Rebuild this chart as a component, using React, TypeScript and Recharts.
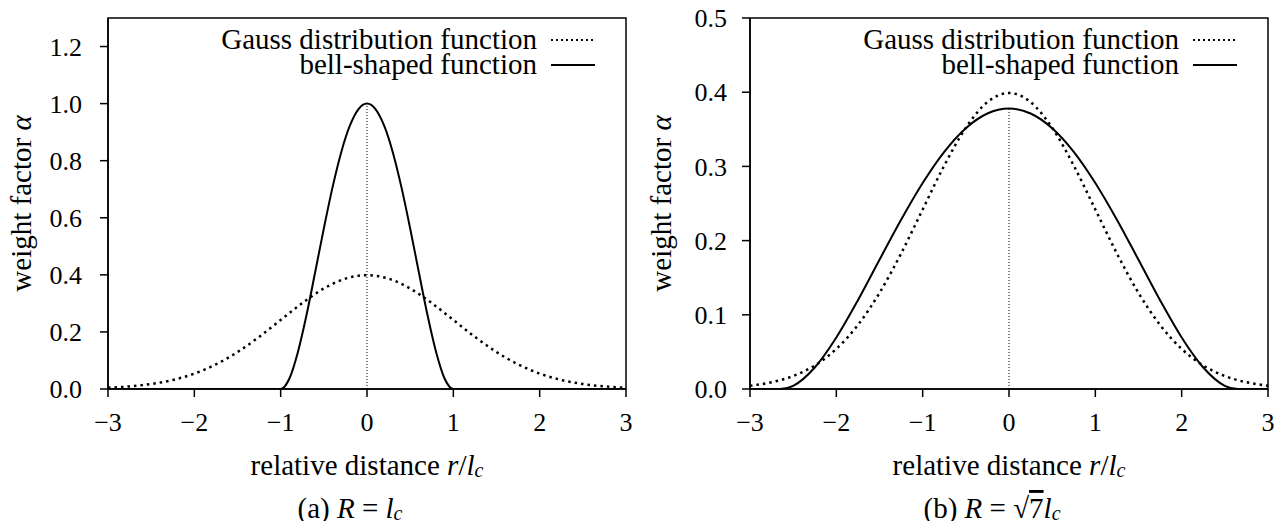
import { LineChart, Line, XAxis, YAxis, Legend, ReferenceLine, ReferenceArea } from "recharts"

const xTicks = [-3, -2, -1, 0, 1, 2, 3]
const yTicksA = [0, 0.2, 0.4, 0.6, 0.8, 1.0, 1.2]
const yTicksB = [0, 0.1, 0.2, 0.3, 0.4, 0.5]

// Gauss distribution (same in both panels)
const gaussX = [-3, -2.75, -2.5, -2.25, -2, -1.75, -1.5, -1.25, -1, -0.75, -0.5, -0.25, 0, 0.25, 0.5, 0.75, 1, 1.25, 1.5, 1.75, 2, 2.25, 2.5, 2.75, 3]
const gaussAlpha = [0.0044, 0.0091, 0.0175, 0.0317, 0.054, 0.0863, 0.1295, 0.1826, 0.242, 0.3011, 0.3521, 0.3867, 0.3989, 0.3867, 0.3521, 0.3011, 0.242, 0.1826, 0.1295, 0.0863, 0.054, 0.0317, 0.0175, 0.0091, 0.0044]

// bell-shaped, panel (a) R = l_c
const bellAX = [-3, -1, -0.9, -0.8, -0.7, -0.6, -0.5, -0.4, -0.3, -0.2, -0.1, 0, 0.1, 0.2, 0.3, 0.4, 0.5, 0.6, 0.7, 0.8, 0.9, 1, 3]
const bellAAlpha = [0, 0, 0.036, 0.13, 0.26, 0.41, 0.5625, 0.7056, 0.8281, 0.9216, 0.9801, 1, 0.9801, 0.9216, 0.8281, 0.7056, 0.5625, 0.41, 0.26, 0.13, 0.036, 0, 0]

// bell-shaped, panel (b) R = sqrt(7) l_c
const bellBX = [-3, -2.65, -2.5, -2.25, -2, -1.75, -1.5, -1.25, -1, -0.75, -0.5, -0.25, 0, 0.25, 0.5, 0.75, 1, 1.25, 1.5, 1.75, 2, 2.25, 2.5, 2.65, 3]
const bellBAlpha = [0, 0, 0.0043, 0.029, 0.0694, 0.1196, 0.1741, 0.2281, 0.2777, 0.3197, 0.3515, 0.3713, 0.378, 0.3713, 0.3515, 0.3197, 0.2777, 0.2281, 0.1741, 0.1196, 0.0694, 0.029, 0.0043, 0, 0]

const FONT = "'Liberation Serif', 'Times New Roman', serif"
const TEXT_SIZE = 29

const toRows = (xs: number[], ys: number[]) => xs.map((x, i) => ({ x, alpha: ys[i] }))

const gaussData = toRows(gaussX, gaussAlpha)
const bellAData = toRows(bellAX, bellAAlpha)
const bellBData = toRows(bellBX, bellBAlpha)

const fmtX = (v: number) => (v < 0 ? `\u2212${Math.abs(v)}` : `${v}`)

function LegendBox({ payload }: any) {
  return (
    <div style={{ fontFamily: FONT, fontSize: TEXT_SIZE, color: "#000", lineHeight: "25px" }}>
      {(payload || []).map((entry: any) => (
        <div key={entry.value} style={{ display: "flex", alignItems: "center", justifyContent: "flex-end", height: 25 }}>
          <span style={{ whiteSpace: "nowrap" }}>{entry.value}</span>
          <svg width={44} height={10} style={{ marginLeft: 14 }}>
            <line
              x1={0}
              x2={44}
              y1={5}
              y2={5}
              stroke="#000"
              strokeWidth={2}
              strokeDasharray={entry.payload?.strokeDasharray ? "2 3" : undefined}
            />
          </svg>
        </div>
      ))}
    </div>
  )
}

interface PanelProps {
  left: number
  width: number
  yAxisWidth: number
  marginRight: number
  tickMargin: number
  yMax: number
  yTicks: number[]
  bell: { x: number; alpha: number }[]
  peak: number
  caption: React.ReactNode
}

function Panel({ left, width, yAxisWidth, marginRight, tickMargin, yMax, yTicks, bell, peak, caption }: PanelProps) {
  return (
    <div style={{ position: "absolute", left, top: 0 }}>
      <LineChart width={width} height={521} margin={{ top: 18, right: marginRight, bottom: 52, left: 0 }}>
        <XAxis
          dataKey="x"
          type="number"
          domain={[-3, 3]}
          ticks={xTicks}
          tickFormatter={fmtX}
          allowDataOverflow
          height={80}
          tickSize={8}
          tickMargin={16}
          axisLine={{ stroke: "#000", strokeWidth: 1.5 }}
          tickLine={{ stroke: "#000", strokeWidth: 1.5 }}
          tick={{ fill: "#000", fontSize: 26, fontFamily: FONT }}
          label={{
            content: ({ viewBox }: any) => {
              const cx = viewBox.x + viewBox.width / 2
              return (
                <g fontFamily={FONT} fill="#000">
                  <text x={cx} y={viewBox.y + 76} textAnchor="middle" dominantBaseline="central" fontSize={TEXT_SIZE}>
                    relative distance <tspan fontStyle="italic">r</tspan>/<tspan fontStyle="italic">l</tspan>
                    <tspan fontStyle="italic" fontSize={20} dy={5}>c</tspan>
                  </text>
                  <text x={cx - 17} y={viewBox.y + 119} textAnchor="middle" dominantBaseline="central" fontSize={TEXT_SIZE}>
                    {caption}
                  </text>
                </g>
              )
            },
          }}
        />
        <YAxis
          type="number"
          domain={[0, yMax]}
          ticks={yTicks}
          tickFormatter={(v: number) => v.toFixed(1)}
          allowDataOverflow
          width={yAxisWidth}
          tickSize={8}
          tickMargin={tickMargin}
          axisLine={{ stroke: "#000", strokeWidth: 1.5 }}
          tickLine={{ stroke: "#000", strokeWidth: 1.5 }}
          tick={{ fill: "#000", fontSize: 26, fontFamily: FONT }}
          label={{
            content: ({ viewBox }: any) => {
              const x = viewBox.x + 21
              const y = viewBox.y + viewBox.height / 2
              return (
                <text
                  x={x}
                  y={y}
                  transform={`rotate(-90 ${x} ${y})`}
                  textAnchor="middle"
                  dominantBaseline="central"
                  fontFamily={FONT}
                  fontSize={TEXT_SIZE}
                  fill="#000"
                >
                  weight factor <tspan fontStyle="italic">α</tspan>
                </text>
              )
            },
          }}
        />
        <Legend
          layout="horizontal"
          verticalAlign="middle"
          align="center"
          content={<LegendBox />}
          wrapperStyle={{ top: 27, right: marginRight + 31, left: "auto", width: "auto" }}
        />
        <ReferenceLine
          segment={[
            { x: 0, y: 0 },
            { x: 0, y: peak },
          ]}
          stroke="#000"
          strokeWidth={1}
          strokeDasharray="1 2"
        />
        <Line
          data={gaussData}
          dataKey="alpha"
          name="Gauss distribution function"
          type="monotone"
          stroke="#000"
          strokeWidth={2.5}
          strokeDasharray="2.5 4"
          dot={false}
          activeDot={false}
          isAnimationActive={false}
        />
        <Line
          data={bell}
          dataKey="alpha"
          name="bell-shaped function"
          type="monotone"
          stroke="#000"
          strokeWidth={2}
          dot={false}
          activeDot={false}
          isAnimationActive={false}
        />
        <ReferenceArea x1={-3} x2={3} y1={0} y2={yMax} fill="none" stroke="#000" strokeWidth={1.5} />
      </LineChart>
    </div>
  )
}

export default function App() {
  return (
    <div style={{ position: "fixed", left: 0, top: 0, width: 1279, height: 521, background: "#fff" }}>
      <Panel
        left={0}
        width={640}
        yAxisWidth={108}
        marginRight={14}
        tickMargin={18}
        yMax={1.3}
        yTicks={yTicksA}
        bell={bellAData}
        peak={Math.max(...bellAAlpha)}
        caption={
          <>
            (a) <tspan fontStyle="italic">R</tspan> = <tspan fontStyle="italic">l</tspan>
            <tspan fontStyle="italic" fontSize={20} dy={5}>c</tspan>
          </>
        }
      />
      <Panel
        left={640}
        width={639}
        yAxisWidth={110}
        marginRight={11}
        tickMargin={15}
        yMax={0.5}
        yTicks={yTicksB}
        bell={bellBData}
        peak={Math.max(...bellBAlpha)}
        caption={
          <>
            (b) <tspan fontStyle="italic">R</tspan> = √<tspan textDecoration="overline">7</tspan>
            <tspan fontStyle="italic">l</tspan>
            <tspan fontStyle="italic" fontSize={20} dy={5}>c</tspan>
          </>
        }
      />
    </div>
  )
}
